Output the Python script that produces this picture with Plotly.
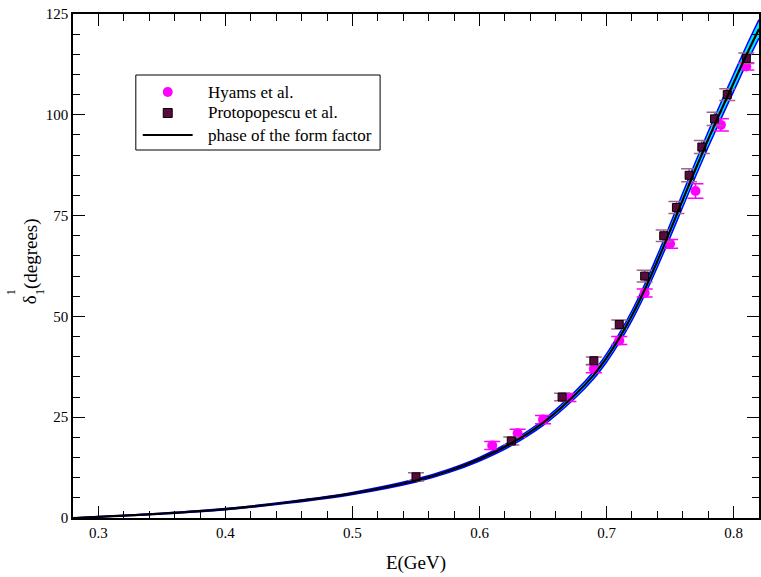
import plotly.graph_objects as go

# Phase of the pion form factor (central curve) and its uncertainty band
curve_E = [0.28, 0.30, 0.35, 0.40, 0.45, 0.50, 0.55, 0.575, 0.60, 0.625, 0.65, 0.675,
           0.69, 0.70, 0.71, 0.72, 0.73, 0.74, 0.75, 0.76, 0.77, 0.78, 0.79,
           0.80, 0.81, 0.82]
curve_phase = [0.0, 0.3, 1.1, 2.2, 3.9, 6.1, 9.3, 11.6, 14.6, 18.5, 23.6, 30.5,
               35.5, 39.7, 44.6, 50.2, 56.6, 63.7, 71.2, 78.9, 86.5, 93.9, 101.0,
               107.9, 114.8, 121.3]
band_half = [0.0, 0.05, 0.1, 0.15, 0.2, 0.25, 0.35, 0.4, 0.45, 0.55, 0.65, 0.8,
             0.9, 1.0, 1.1, 1.2, 1.3, 1.45, 1.6, 1.7, 1.8, 1.9, 2.0,
             2.1, 2.2, 2.3]

# Hyams et al. phase shifts
hyams_E = [0.61, 0.63, 0.65, 0.67, 0.69, 0.71, 0.73, 0.75, 0.77, 0.79, 0.81]
hyams_delta = [18.0, 21.0, 24.4, 29.9, 37.0, 44.0, 55.8, 68.0, 81.1, 97.5, 112.0]
hyams_err = [1.0, 1.0, 1.0, 1.0, 1.0, 1.0, 1.0, 1.1, 1.8, 1.5, 0.9]

# Protopopescu et al. phase shifts
proto_E = [0.55, 0.625, 0.665, 0.69, 0.71, 0.73, 0.745, 0.755, 0.765, 0.775,
           0.785, 0.795, 0.81]
proto_delta = [10.2, 19.1, 30.0, 39.0, 48.0, 60.0, 70.0, 77.0, 85.0, 92.0,
               99.0, 105.0, 114.0]
proto_err = [1.0, 1.0, 0.95, 0.95, 1.1, 1.45, 1.45, 1.5, 1.6, 1.6, 1.65, 1.45, 1.3]

x_ticks = [0.3, 0.4, 0.5, 0.6, 0.7, 0.8]
y_ticks = [0, 25, 50, 75, 100, 125]

legend_labels = ["Hyams et al.", "Protopopescu et al.", "phase of the form factor"]

band_upper = [c + h for c, h in zip(curve_phase, band_half)]
band_lower = [c - h for c, h in zip(curve_phase, band_half)]

FONT = "Liberation Serif, Times New Roman, Times, serif"
HYAMS_COLOR = "#ff00ff"
PROTO_FILL = "#5a0a3c"
PROTO_ERR = "#a0668e"

W, H = 761, 577
M_L, M_R, M_T, M_B = 73, 0, 14, 59
PW, PH = W - M_L - M_R, H - M_T - M_B


def px(x):
    """Pixel column -> paper x."""
    return (x - M_L) / PW


def py(y):
    """Pixel row -> paper y."""
    return 1 - (y - M_T) / PH


fig = go.Figure()

fig.add_trace(go.Scatter(
    x=curve_E, y=band_upper, mode="lines", line=dict(color="#0000ff", width=1.5, shape="spline"),
    showlegend=False, hoverinfo="skip"))
fig.add_trace(go.Scatter(
    x=curve_E, y=band_lower, mode="lines", line=dict(color="#0000ff", width=1.5, shape="spline"),
    fill="tonexty", fillcolor="#00e5ff", showlegend=False, hoverinfo="skip"))

fig.add_trace(go.Scatter(
    x=hyams_E, y=hyams_delta, mode="markers", name=legend_labels[0],
    marker=dict(symbol="circle", size=10, color=HYAMS_COLOR),
    error_y=dict(type="data", array=hyams_err, color=HYAMS_COLOR, thickness=1.5, width=8)))

fig.add_trace(go.Scatter(
    x=proto_E, y=proto_delta, mode="markers", name=legend_labels[1],
    marker=dict(symbol="square", size=8, color=PROTO_FILL, line=dict(color="black", width=1)),
    error_y=dict(type="data", array=proto_err, color=PROTO_ERR, thickness=1.5, width=8)))

fig.add_trace(go.Scatter(
    x=curve_E, y=curve_phase, mode="lines", name=legend_labels[2],
    line=dict(color="black", width=2.2, shape="spline")))

axis_common = dict(
    showgrid=False, zeroline=False, showline=True, linecolor="black", linewidth=1.5,
    mirror="allticks", ticks="inside", ticklen=12, tickwidth=1, tickcolor="black",
    tickfont=dict(family=FONT, size=15, color="black"),
)

fig.update_xaxes(
    range=[0.28, 0.82], tickvals=x_ticks, ticktext=[f"{v:.1f}" for v in x_ticks],
    minor=dict(dtick=0.02, tick0=0.3, ticks="inside", ticklen=7, tickcolor="black"),
    title=dict(text="E(GeV)", font=dict(family=FONT, size=19, color="black"), standoff=16),
    **axis_common)
fig.update_yaxes(range=[0, 125], tickvals=y_ticks,
                 minor=dict(dtick=5, tick0=0, ticks="inside", ticklen=7, tickcolor="black"),
                 **axis_common)

# Y-axis title: delta with stacked super/subscript, rotated
title_font = dict(family=FONT, size=19, color="black")
small_font = dict(family=FONT, size=12, color="black")
annotations = [
    dict(text="(degrees)", x=px(31), y=py(254), font=title_font),
    dict(text="δ", x=px(29), y=py(300), font=title_font),
    dict(text="1", x=px(11), y=py(292), font=small_font),
    dict(text="1", x=px(40), y=py(292), font=small_font),
]
for a in annotations:
    a.update(xref="paper", yref="paper", textangle=-90, showarrow=False,
             xanchor="center", yanchor="middle")

# Legend box drawn in paper coordinates
box_l, box_r, box_t, box_b = 136, 381, 75, 150
row_y = [92, 113, 135]
sym_x = 168
text_x = 206
shapes = [
    dict(type="rect", x0=px(box_l), x1=px(box_r), y0=py(box_b), y1=py(box_t),
         line=dict(color="black", width=1), fillcolor="white", layer="above"),
    dict(type="circle", x0=px(sym_x - 5), x1=px(sym_x + 5), y0=py(row_y[0] + 5), y1=py(row_y[0] - 5),
         line=dict(width=0), fillcolor=HYAMS_COLOR, layer="above"),
    dict(type="rect", x0=px(sym_x - 4.5), x1=px(sym_x + 4.5), y0=py(row_y[1] + 4.5), y1=py(row_y[1] - 4.5),
         line=dict(color="black", width=1), fillcolor=PROTO_FILL, layer="above"),
    dict(type="line", x0=px(143), x1=px(193), y0=py(row_y[2]), y1=py(row_y[2]),
         line=dict(color="black", width=2), layer="above"),
]
for s in shapes:
    s.update(xref="paper", yref="paper")

for label, ry in zip(legend_labels, row_y):
    annotations.append(dict(text=label, x=px(text_x), y=py(ry), xref="paper", yref="paper",
                            xanchor="left", yanchor="middle", showarrow=False,
                            font=dict(family=FONT, size=17, color="black")))

fig.update_layout(
    width=W, height=H,
    margin=dict(l=M_L, r=M_R, t=M_T, b=M_B),
    paper_bgcolor="white", plot_bgcolor="white",
    font=dict(family=FONT, color="black"),
    showlegend=False,
    annotations=annotations,
    shapes=shapes,
)

fig.write_html("out.html")
